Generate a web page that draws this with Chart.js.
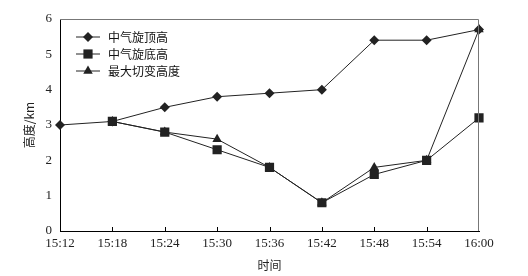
<!DOCTYPE html>
<html>
<head>
<meta charset="utf-8">
<script src="https://cdn.jsdelivr.net/npm/chart.js@4"></script>
<style>
  html, body { margin: 0; padding: 0; background: #fff; }
  #wrap { width: 528px; height: 276px; }
</style>
</head>
<body>
<div id="wrap"><canvas id="chart" width="528" height="276"></canvas></div>
<script>
// data
const times = ['15:12', '15:18', '15:24', '15:30', '15:36', '15:42', '15:48', '15:54', '16:00'];
const topHeight = [3.0, 3.1, 3.5, 3.8, 3.9, 4.0, 5.4, 5.4, 5.7];
const baseHeight = [null, 3.1, 2.8, 2.3, 1.8, 0.8, 1.6, 2.0, 3.2];
const shearHeight = [null, 3.1, 2.8, 2.6, 1.8, 0.8, 1.8, 2.0, 5.7];
const seriesNames = ['中气旋顶高', '中气旋底高', '最大切变高度'];
const yTicks = [0, 1, 2, 3, 4, 5, 6];

const ink = '#222';
const serif = "'Liberation Serif', 'Noto Sans CJK SC', serif";
const cjk = "'Noto Sans CJK SC', serif";

// frame (grey top/right), inward x tick marks and the legend inside the plot
const framePlugin = {
    id: 'frame',
    afterDraw(chart) {
        const ctx = chart.ctx;
        const a = chart.chartArea;
        ctx.save();
        ctx.strokeStyle = '#777';
        ctx.lineWidth = 1;
        ctx.beginPath();
        ctx.moveTo(a.left, a.top + 0.5);
        ctx.lineTo(a.right - 0.5, a.top + 0.5);
        ctx.lineTo(a.right - 0.5, a.bottom);
        ctx.stroke();

        const xs = chart.scales.x;
        ctx.strokeStyle = '#000';
        ctx.beginPath();
        for (let i = 1; i < times.length - 1; i++) {
            const px = Math.round(xs.getPixelForValue(i)) + 0.5;
            ctx.moveTo(px, a.bottom);
            ctx.lineTo(px, a.bottom - 4);
        }
        ctx.stroke();

        // legend
        const lx = a.left + 16, ly = a.top + 18, gap = 17;
        chart.data.datasets.forEach(function(ds, i) {
            const y = ly + i * gap;
            ctx.strokeStyle = ink;
            ctx.lineWidth = 1;
            ctx.beginPath();
            ctx.moveTo(lx, y);
            ctx.lineTo(lx + 24, y);
            ctx.stroke();
            ctx.fillStyle = ink;
            Chart.helpers.drawPoint(ctx, {
                pointStyle: ds.pointStyle,
                radius: ds.pointRadius,
                rotation: 0,
                borderWidth: 0
            }, lx + 12, y);
            ctx.fillStyle = '#111';
            ctx.font = '12px ' + cjk;
            ctx.textBaseline = 'middle';
            ctx.textAlign = 'left';
            ctx.fillText(ds.label, lx + 32, y);
        });
        ctx.restore();
    }
};

function series(label, data, style, radius) {
    return {
        label: label,
        data: data,
        borderColor: ink,
        backgroundColor: ink,
        borderWidth: 1,
        pointStyle: style,
        pointRadius: radius,
        pointBorderWidth: 0,
        pointBackgroundColor: ink,
        tension: 0
    };
}

new Chart(document.getElementById('chart'), {
    type: 'line',
    data: {
        labels: times,
        datasets: [
            series(seriesNames[0], topHeight, 'rectRot', 5),
            series(seriesNames[1], baseHeight, 'rect', 6.5),
            series(seriesNames[2], shearHeight, 'triangle', 5.5)
        ]
    },
    options: {
        responsive: false,
        animation: false,
        layout: { padding: { top: 19, right: 49, left: 22, bottom: 0 } },
        plugins: {
            legend: { display: false },
            tooltip: { enabled: false }
        },
        scales: {
            x: {
                offset: false,
                grid: { display: false, drawTicks: false },
                border: { color: '#000', width: 1 },
                ticks: {
                    color: '#222',
                    font: { family: serif, size: 13 },
                    maxRotation: 0,
                    autoSkip: false,
                    padding: 5
                },
                title: {
                    display: true,
                    text: '时间',
                    color: '#222',
                    font: { family: cjk, size: 12 },
                    padding: { top: 4, bottom: 3 }
                },
                afterFit(scale) { scale.height = 45; }
            },
            y: {
                min: 0,
                max: 6,
                grid: { display: false, drawTicks: false },
                border: { color: '#000', width: 1 },
                afterBuildTicks(scale) {
                    scale.ticks = yTicks.map(function(v) { return { value: v }; });
                },
                ticks: {
                    color: '#222',
                    font: { family: serif, size: 13 },
                    padding: 8
                },
                title: {
                    display: true,
                    text: '高度/km',
                    color: '#222',
                    font: { family: cjk, size: 12 },
                    padding: { top: 0, bottom: 0 }
                },
                afterFit(scale) { scale.width = 38; }
            }
        }
    },
    plugins: [framePlugin]
});
</script>
</body>
</html>
